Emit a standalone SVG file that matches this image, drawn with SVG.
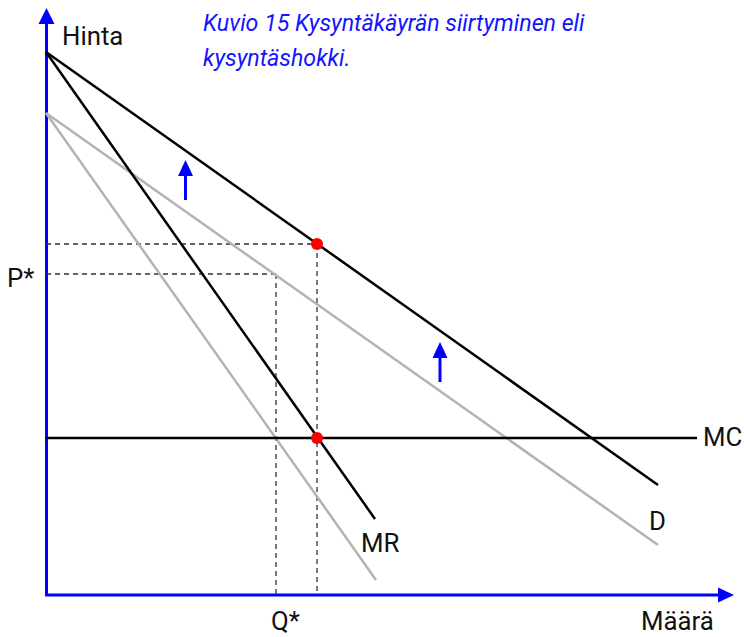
<svg xmlns="http://www.w3.org/2000/svg" width="744" height="637" viewBox="0 0 744 637">
<style>
.lbl{font-family:Roboto,"Liberation Sans",sans-serif;font-size:25.8px;fill:#111}
.ttl{font-family:Roboto,"Liberation Sans",sans-serif;font-size:23.2px;font-style:italic;fill:#1414ff}
.blk{stroke:#000;stroke-width:2.5;fill:none}
.gry{stroke:#b3b3b3;stroke-width:2.5;fill:none}
.dash{stroke:#333;stroke-width:1.3;stroke-dasharray:5,4;fill:none}
.ax{stroke:#0000ff;stroke-width:3;fill:none}
.sh{stroke:#0000ff;stroke-width:3;fill:none}
.dot{fill:#ff0000}
</style>
<rect width="744" height="637" fill="#fff"/>
<g id="axes">
<line class="ax" x1="46.5" y1="596" x2="46.5" y2="22"/>
<polygon points="46.5,8 38.5,24 54.5,24" fill="#0000ff"/>
<line class="ax" x1="45" y1="595" x2="720" y2="595"/>
<polygon points="734,595 718,587.5 718,602.5" fill="#0000ff"/>
</g>
<g id="connectors">
<line class="dash" x1="46" y1="244" x2="317" y2="244"/>
<line class="dash" x1="317" y1="244" x2="317" y2="595"/>
<line class="dash" x1="46" y1="274" x2="276" y2="274"/>
<line class="dash" x1="276" y1="274" x2="276" y2="595"/>
<line class="gry" x1="46" y1="113" x2="658" y2="545"/>
<line class="gry" x1="46" y1="113" x2="376" y2="580"/>
<line class="blk" x1="46" y1="52" x2="658" y2="485"/>
<line class="blk" x1="46" y1="52" x2="375" y2="519"/>
<line class="blk" x1="46" y1="438" x2="697" y2="438"/>
<line class="sh" x1="185.5" y1="200" x2="185.5" y2="172"/>
<polygon points="185.5,160 178,176 193,176" fill="#0000ff"/>
<line class="sh" x1="440" y1="382" x2="440" y2="354"/>
<polygon points="440,342 432.5,358 447.5,358" fill="#0000ff"/>
</g>
<g id="points">
<circle class="dot" cx="317" cy="244" r="6"/>
<circle class="dot" cx="317" cy="438" r="6"/>
</g>
<g id="labels">
<text class="ttl" x="203" y="31">Kuvio 15 Kysyntäkäyrän siirtyminen eli</text>
<text class="ttl" x="203" y="66">kysyntäshokki.</text>
<text class="lbl" x="62" y="45">Hinta</text>
<text class="lbl" x="7" y="287">P*</text>
<text class="lbl" x="271" y="630">Q*</text>
<text class="lbl" x="641" y="630">Määrä</text>
<text class="lbl" x="703" y="446">MC</text>
<text class="lbl" x="649" y="530">D</text>
<text class="lbl" x="361" y="552">MR</text>
</g>
</svg>
